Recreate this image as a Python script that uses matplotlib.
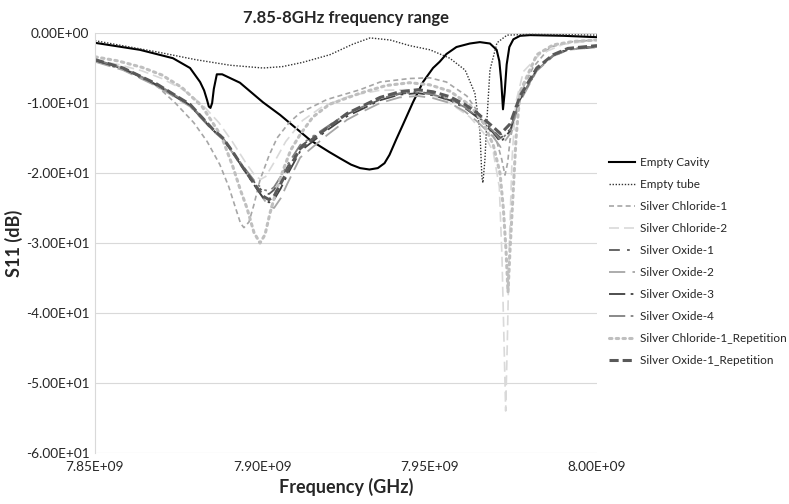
import numpy as np
import matplotlib
matplotlib.use("Agg")
import matplotlib.pyplot as plt
from matplotlib.ticker import FuncFormatter

plt.rcParams['font.family'] = ['Lato', 'DejaVu Sans']

# %%
# data (frequency in GHz, S11 in dB)
cavity_f = [7.850, 7.8634, 7.8733, 7.8784, 7.8814, 7.8826, 7.8835, 7.8840, 7.8845, 7.8850, 7.8855,
            7.8864, 7.8880, 7.8933, 7.9002, 7.9053, 7.9083, 7.9143, 7.9200, 7.9232, 7.9265, 7.9292,
            7.9320, 7.9345, 7.9365, 7.9380, 7.9400, 7.9420, 7.9450, 7.9480, 7.9510, 7.9530, 7.9550,
            7.9580, 7.9620, 7.9650, 7.9680, 7.9700, 7.9708, 7.9714, 7.9719, 7.9724, 7.9730, 7.9738,
            7.9750, 7.9770, 7.9800, 7.9900, 8.000]
cavity_db = [-1.4, -2.4, -3.6, -5.0, -7.0, -8.2, -9.6, -10.5, -10.7, -10.0, -8.0,
             -5.9, -5.9, -7.1, -9.9, -11.7, -12.9, -15.3, -17.0, -17.9, -18.8, -19.3,
             -19.5, -19.3, -18.6, -17.4, -15.2, -13.1, -9.9, -7.0, -5.0, -4.1, -3.0,
             -2.0, -1.5, -1.3, -1.5, -2.4, -4.0, -7.0, -10.9, -8.5, -4.5, -2.0,
             -0.9, -0.4, -0.3, -0.4, -0.6]

tube_f = [7.850, 7.8685, 7.8800, 7.8903, 7.9002, 7.9060, 7.9120, 7.9202, 7.9270, 7.9322, 7.9382,
          7.9440, 7.9501, 7.9560, 7.9606, 7.9635, 7.9650, 7.9656, 7.9659, 7.9665, 7.9671, 7.9680,
          7.9701, 7.9731, 7.9800, 8.000]
tube_db = [-1.1, -2.7, -3.8, -4.6, -5.0, -4.8, -4.2, -3.1, -1.6, -0.7, -1.0,
           -1.8, -2.4, -3.6, -5.3, -8.6, -13.9, -20.6, -21.4, -18.1, -12.4, -5.3,
           -1.4, -0.3, -0.2, -0.3]

sc1_f = [7.850, 7.857, 7.863, 7.869, 7.874, 7.8795, 7.8835, 7.8873, 7.890, 7.892, 7.8935, 7.8945,
         7.896, 7.8975, 7.8993, 7.902, 7.9044, 7.908, 7.9113, 7.9193, 7.9292, 7.9352, 7.944, 7.950,
         7.955, 7.9611, 7.9659, 7.9701, 7.9715, 7.9725, 7.9733, 7.974, 7.977, 7.9809, 7.986, 7.993,
         8.000]
sc1_db = [-3.8, -4.8, -6.0, -7.8, -10.0, -12.8, -15.5, -18.8, -22.0, -25.0, -27.2, -27.8,
          -27.0, -24.5, -21.0, -17.5, -15.0, -12.8, -11.4, -9.5, -8.1, -7.0, -6.5, -6.4,
          -7.0, -9.0, -12.3, -15.6, -18.0, -20.3, -18.5, -15.3, -8.6, -4.9, -2.0, -1.2,
          -1.0]

sc2_f = [7.850, 7.857, 7.864, 7.870, 7.876, 7.882, 7.887, 7.891, 7.895, 7.898, 7.8995, 7.901,
         7.9035, 7.907, 7.912, 7.918, 7.926, 7.935, 7.943, 7.950, 7.956, 7.962, 7.966, 7.969,
         7.9708, 7.9716, 7.9722, 7.9727, 7.9732, 7.9738, 7.9746, 7.9757, 7.978, 7.983, 7.990,
         8.000]
sc2_db = [-3.9, -4.5, -5.4, -6.5, -8.0, -10.2, -12.8, -15.5, -18.5, -20.5, -20.9, -20.5,
          -18.5, -15.5, -12.5, -10.5, -9.0, -8.2, -8.1, -8.7, -10.0, -12.0, -14.2, -17.0,
          -22.0, -32.0, -44.0, -54.0, -44.0, -30.0, -18.0, -10.0, -5.5, -3.0, -1.6,
          -1.0]

sc1rep_f = [7.850, 7.857, 7.864, 7.870, 7.876, 7.882, 7.8865, 7.8882, 7.8912, 7.8935, 7.8954,
            7.8975, 7.8993, 7.9008, 7.9023, 7.9045, 7.9062, 7.9085, 7.9113, 7.9151, 7.920, 7.9292,
            7.937, 7.944, 7.950, 7.956, 7.962, 7.966, 7.969, 7.971, 7.972, 7.9728, 7.9734, 7.974,
            7.9748, 7.9758, 7.977, 7.982, 7.9869, 7.993, 8.000]
sc1rep_db = [-3.4, -4.0, -4.9, -6.0, -7.8, -10.5, -13.8, -15.3, -19.1, -22.5, -25.0,
             -28.5, -30.0, -28.8, -25.7, -22.0, -19.6, -16.7, -14.5, -12.0, -10.2, -8.6,
             -7.5, -7.1, -7.4, -8.3, -10.3, -12.8, -16.0, -20.0, -25.0, -31.0, -37.0, -31.0,
             -24.0, -15.0, -8.4, -3.1, -1.7, -1.2, -1.0]

# silver oxide samples share one frequency grid
ox_f = [7.850, 7.8584, 7.8685, 7.8784, 7.8853, 7.8882, 7.8912, 7.8942, 7.8984, 7.9005, 7.9020,
        7.9035, 7.9055, 7.9074, 7.9113, 7.9193, 7.9253, 7.9292, 7.9352, 7.9410, 7.9465, 7.9510,
        7.9560, 7.9605, 7.9641, 7.9689, 7.9712, 7.9740, 7.9770, 7.9820, 7.9869, 7.9913, 8.000]
so1_db = [-4.0, -5.2, -7.5, -10.4, -13.9, -15.1, -17.1, -19.2, -21.8, -22.8, -23.0,
          -22.4, -20.8, -19.2, -16.2, -13.5, -11.6, -10.8, -9.5, -8.7, -8.4, -8.7,
          -9.4, -10.5, -11.8, -13.9, -15.0, -13.8, -9.6, -5.3, -3.3, -2.4, -2.0]
so2_db = [-4.1, -5.3, -7.6, -10.5, -14.0, -15.2, -17.2, -19.3, -22.3, -23.8, -24.7,
          -25.0, -23.6, -21.6, -17.8, -14.6, -12.4, -11.4, -10.0, -9.2, -9.0, -9.3,
          -10.0, -11.2, -12.6, -14.8, -16.3, -14.4, -9.8, -5.4, -3.3, -2.4, -2.0]
so3_db = [-3.9, -5.1, -7.4, -10.3, -13.9, -15.1, -17.1, -19.3, -22.3, -23.7, -24.2,
          -23.8, -22.2, -20.3, -16.9, -13.9, -11.9, -11.0, -9.6, -8.8, -8.6, -8.9,
          -9.6, -10.7, -12.0, -14.2, -15.6, -14.0, -9.5, -5.2, -3.2, -2.3, -1.9]
so4_db = [-3.8, -5.0, -7.3, -10.2, -13.8, -15.0, -17.0, -19.0, -21.6, -22.4, -22.6,
          -22.0, -20.5, -18.9, -16.0, -13.4, -11.5, -10.7, -9.4, -8.6, -8.5, -8.8,
          -9.5, -10.6, -11.9, -14.0, -15.3, -13.9, -9.5, -5.3, -3.2, -2.3, -1.9]
so1rep_db = [-3.8, -5.0, -7.3, -10.2, -13.8, -15.0, -17.0, -19.2, -22.1, -23.4, -23.8,
             -23.3, -21.5, -19.8, -16.5, -13.6, -11.5, -10.6, -9.2, -8.4, -8.1, -8.4,
             -9.1, -10.2, -11.4, -13.4, -14.4, -13.0, -9.0, -5.0, -3.1, -2.2, -1.8]

# %%
fig = plt.figure(figsize=(7.89, 5.04), dpi=100)
ax = fig.add_axes([0.1204, 0.1012, 0.6363, 0.8333])

def hz(f):
    return np.array(f) * 1e9

series = [
    ("Empty Cavity", cavity_f, cavity_db, dict(color='black', lw=1.5, ls='-')),
    ("Empty tube", tube_f, tube_db, dict(color='#333333', lw=1.0, ls=(0, (1, 1.2)))),
    ("Silver Chloride-1", sc1_f, sc1_db, dict(color='#a6a6a6', lw=1.2, ls=(0, (3, 2)))),
    ("Silver Chloride-2", sc2_f, sc2_db, dict(color='#d9d9d9', lw=1.2, ls=(0, (6, 3)))),
    ("Silver Oxide-1", ox_f, so1_db, dict(color='#595959', lw=1.3, ls=(0, (6, 4, 1.5, 4)))),
    ("Silver Oxide-2", ox_f, so2_db, dict(color='#a6a6a6', lw=1.3, ls=(0, (9, 4)))),
    ("Silver Oxide-3", ox_f, so3_db, dict(color='#404040', lw=1.3, ls=(0, (9, 3, 1.5, 3)))),
    ("Silver Oxide-4", ox_f, so4_db, dict(color='#808080', lw=1.3, ls=(0, (9, 3, 1.5, 3, 1.5, 3)))),
    ("Silver Chloride-1_Repetition", sc1rep_f, sc1rep_db,
     dict(color='#bfbfbf', lw=2.2, ls=(0, (0.8, 1.4)), dash_capstyle='round')),
    ("Silver Oxide-1_Repetition", ox_f, so1rep_db, dict(color='#595959', lw=2.2, ls=(0, (3, 1.3)))),
]

for name, f, db, style in series:
    ax.plot(hz(f), db, label=name, **style)

ax.set_xlim(7.85e9, 8.0e9)
ax.set_ylim(-60, 0)
ax.set_xticks([7.85e9, 7.90e9, 7.95e9, 8.0e9])
ax.set_yticks(np.arange(-60, 1, 10))
ax.xaxis.set_major_formatter(FuncFormatter(lambda v, p: '{:.2E}'.format(v)))
ax.yaxis.set_major_formatter(FuncFormatter(lambda v, p: '{:.2E}'.format(v)))
ax.tick_params(length=0, labelsize=9.8, colors='#262626')
ax.tick_params(axis='x', pad=6)
ax.tick_params(axis='y', pad=4)

ax.grid(axis='y', color='#d9d9d9', lw=0.8)
ax.set_axisbelow(True)
for s in ['top', 'right', 'bottom']:
    ax.spines[s].set_visible(False)
ax.spines['left'].set_color('#d9d9d9')

ax.set_title("7.85-8GHz frequency range", fontsize=12, fontweight='bold', color='#262626', pad=7)
ax.set_xlabel("Frequency (GHz)", fontsize=13, fontweight='bold', color='#262626', labelpad=3)
ax.set_ylabel("S11 (dB)", fontsize=13, fontweight='bold', color='#262626', labelpad=2)

fig.legend(loc='center left', bbox_to_anchor=(0.762, 0.481), frameon=False, fontsize=8.5,
           handlelength=2.2, labelspacing=0.93, handletextpad=0.35, borderpad=0.2,
           labelcolor='#262626')

fig.savefig("out.png", dpi=100)
